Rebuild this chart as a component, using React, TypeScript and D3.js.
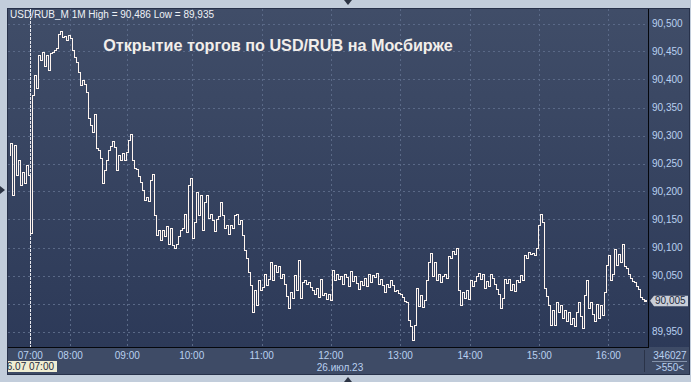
import React from 'react';
import * as d3 from 'd3';

// ---------- data ----------
const symbolLabel = 'USD/RUB_M 1M';
const highValue = 90.486;
const lowValue = 89.935;
const lastPrice = 90.005;
const titleText = 'Открытие торгов по USD/RUB на Мосбирже';
const dateLabel = '26.июл.23';
const cursorLabel = '26.07 07:00';
const volumeLabel = '346027';
const barsLabel = '>550<';

const priceTicks = [89.95, 90.0, 90.05, 90.1, 90.15, 90.2, 90.25, 90.3, 90.35, 90.4, 90.45, 90.5];
const timeLabels = ['07:00', '08:00', '09:00', '10:00', '11:00', '12:00', '13:00', '14:00', '15:00', '16:00'];
// position of each hour on the bar axis (bars are not evenly spread in time)
const timeSlots = [10.65, 30.65, 59.15, 91.35, 126.35, 160.85, 195.65, 230.5, 265.15, 299.65];

const pricesEarly = [90.265, 90.287, 90.194, 90.283, 90.23, 90.256, 90.212, 90.235, 90.215, 90.247, 90.23];
const prices07 = [90.126, 90.372, 90.408, 90.385, 90.444, 90.435, 90.449, 90.424, 90.444, 90.417, 90.447, 90.449, 90.453, 90.456, 90.481, 90.486, 90.476, 90.478, 90.471, 90.479];
const prices08 = [90.474, 90.453, 90.44, 90.431, 90.413, 90.39, 90.399, 90.392, 90.378, 90.331, 90.319, 90.306, 90.338, 90.278, 90.274, 90.26, 90.215, 90.238, 90.256, 90.274, 90.281, 90.29, 90.279, 90.238, 90.265, 90.256, 90.269, 90.256, 90.271];
const prices09 = [90.292, 90.303, 90.256, 90.242, 90.24, 90.228, 90.217, 90.203, 90.185, 90.19, 90.183, 90.221, 90.231, 90.158, 90.122, 90.131, 90.113, 90.131, 90.12, 90.138, 90.106, 90.135, 90.104, 90.099, 90.106, 90.12, 90.131, 90.135, 90.16, 90.128, 90.212, 90.224];
const prices10 = [90.117, 90.146, 90.199, 90.158, 90.194, 90.131, 90.181, 90.194, 90.153, 90.16, 90.149, 90.129, 90.151, 90.156, 90.181, 90.158, 90.135, 90.14, 90.124, 90.14, 90.135, 90.158, 90.16, 90.142, 90.149, 90.122, 90.096, 90.081, 90.056, 90.033, 89.985, 90.024, 89.997, 90.042, 90.024];
const prices11 = [90.029, 90.053, 90.033, 90.044, 90.074, 90.042, 90.069, 90.056, 90.067, 90.046, 90.053, 90.035, 90.013, 89.992, 90.021, 90.01, 90.051, 90.024, 90.078, 90.01, 90.038, 90.042, 90.035, 90.038, 90.029, 90.024, 90.017, 90.028, 90.012, 90.044, 90.015, 90.019, 90.008, 90.017, 90.006];
const prices12 = [90.06, 90.042, 90.053, 90.044, 90.049, 90.035, 90.053, 90.047, 90.031, 90.058, 90.04, 90.049, 90.037, 90.026, 90.04, 90.033, 90.046, 90.031, 90.053, 90.038, 90.051, 90.047, 90.055, 90.035, 90.044, 90.033, 90.021, 90.035, 90.029, 90.042, 90.033, 90.022, 90.024, 90.019, 90.017];
const prices13 = [90.012, 90.004, 90.003, 89.97, 89.96, 89.935, 89.962, 90.028, 89.996, 90.015, 89.994, 90.006, 90.042, 90.074, 90.09, 90.049, 90.074, 90.042, 90.053, 90.038, 90.049, 90.053, 90.046, 90.085, 90.081, 90.094, 90.088, 90.099, 90.024, 89.997, 90.021, 90.01, 90.024, 90.008];
const prices14 = [90.042, 90.031, 90.04, 90.049, 90.055, 90.044, 90.053, 90.028, 90.04, 90.031, 90.053, 90.046, 90.035, 90.026, 90.017, 89.992, 90.01, 90.044, 90.037, 90.044, 90.024, 90.035, 90.022, 90.042, 90.038, 90.051, 90.042, 90.087, 90.081, 90.092, 90.088, 90.09, 90.087, 90.099, 90.14];
const prices15 = [90.16, 90.146, 90.028, 90.013, 89.997, 89.962, 89.988, 89.962, 90.003, 89.985, 89.997, 89.974, 89.988, 89.969, 89.985, 89.963, 89.974, 89.96, 89.985, 90.003, 89.978, 89.956, 90.015, 90.042, 89.992, 90.003, 89.981, 89.969, 89.999, 89.974, 89.997, 89.979, 90.021, 90.069];
const prices16 = [90.087, 90.042, 90.053, 90.097, 90.069, 90.088, 90.074, 90.106, 90.067, 90.063, 90.053, 90.046, 90.04, 90.038, 90.031, 90.026, 90.012, 90.008, 90.005];

const prices = [
  ...pricesEarly, ...prices07, ...prices08, ...prices09, ...prices10, ...prices11,
  ...prices12, ...prices13, ...prices14, ...prices15, ...prices16,
];

// ---------- layout ----------
const W = 691;
const H = 382;
const panel = { x: 8, y: 9, r: 689, b: 374 };
const plot = { l: 8, t: 9, r: 648, b: 347 };
const FONT = 'Liberation Sans, Arial, sans-serif';
const labelColor = '#b9d0f0';
const gridColor = '#5a6987';

const fmt = (v: number) => d3.format('.3f')(v).replace('.', ',');

export default function App() {
  const x = d3.scaleLinear().domain([0, prices.length - 1]).range([9, 645]);
  const y = d3.scaleLinear().domain([89.95, 90.5]).range([331.5, 23.5]);

  const line = d3
    .line<number>()
    .x((_, i) => Math.round(x(i)) + 0.5)
    .y((d) => Math.round(y(d)) + 0.5)
    .curve(d3.curveStep);

  const lastY = y(lastPrice);
  const lastX = x(prices.length - 1);

  return (
    <svg
      width={W}
      height={H}
      style={{ position: 'absolute', left: 0, top: 0, display: 'block' }}
      fontFamily={FONT}
    >
      <defs>
        <linearGradient id="bg" x1="0" y1="0" x2="0" y2="1">
          <stop offset="0" stopColor="#404d68" />
          <stop offset="1" stopColor="#2b3857" />
        </linearGradient>
        <clipPath id="plotClip">
          <rect x={plot.l} y={plot.t} width={plot.r - plot.l} height={plot.b - plot.t} />
        </clipPath>
        <clipPath id="panelClip">
          <rect x={panel.x} y={panel.y} width={panel.r - panel.x} height={panel.b - panel.y} />
        </clipPath>
      </defs>

      {/* outer frame */}
      <rect x={0} y={0} width={W} height={H} fill="#c2cddb" />
      <rect x={panel.x} y={panel.y} width={panel.r - panel.x} height={panel.b - panel.y} fill="url(#bg)" />
      <rect x={plot.l} y={plot.b} width={plot.r - plot.l} height={panel.b - plot.b} fill="#3e4b66" />
      <rect x={plot.r} y={plot.b} width={panel.r - plot.r} height={panel.b - plot.b} fill="#3e4b66" />
      <rect x={panel.x - 0.5} y={panel.y - 0.5} width={panel.r - panel.x + 1} height={panel.b - panel.y + 1} fill="none" stroke="#27314a" />

      {/* grid */}
      <g clipPath="url(#plotClip)">
        {priceTicks.map((p) => (
          <line key={p} x1={plot.l} x2={plot.r} y1={Math.round(y(p)) + 0.5} y2={Math.round(y(p)) + 0.5} stroke={gridColor} strokeDasharray="2,3" />
        ))}
        {timeSlots.slice(1).map((s) => (
          <line key={s} x1={Math.round(x(s)) + 0.5} x2={Math.round(x(s)) + 0.5} y1={plot.t} y2={plot.b} stroke={gridColor} strokeDasharray="2,3" />
        ))}
        <line x1={Math.round(x(timeSlots[0])) + 0.5} x2={Math.round(x(timeSlots[0])) + 0.5} y1={plot.t} y2={plot.b} stroke="#e8e8ee" strokeDasharray="3,1" />
      </g>

      {/* header and title */}
      <text x={10} y={18} fill="#eef1f6" fontSize={10}>
        {`${symbolLabel} High = ${fmt(highValue)} Low = ${fmt(lowValue)}`}
      </text>
      <text x={278} y={50.5} fill="#f2eeea" fontSize={16.2} fontWeight="bold" textAnchor="middle">
        {titleText}
      </text>

      {/* price line */}
      <g clipPath="url(#plotClip)">
        <path d={line(prices) || ''} fill="none" stroke="#fff5ef" strokeWidth={1} shapeRendering="crispEdges" />
        <rect x={Math.round(lastX)} y={Math.round(lastY) - 1} width={2} height={2} fill="#fff5ef" />
      </g>

      {/* axis lines */}
      <line x1={plot.r + 0.5} x2={plot.r + 0.5} y1={panel.y} y2={plot.b + 1} stroke="#05070c" />
      <line x1={plot.l} x2={plot.r + 1} y1={plot.b + 0.5} y2={plot.b + 0.5} stroke="#05070c" />
      <line x1={644.5} x2={644.5} y1={350} y2={372} stroke="#2a3348" />
      <line x1={652} x2={687} y1={361.5} y2={361.5} stroke="#8392ab" />

      {/* y labels */}
      {priceTicks
        .filter((p) => Math.abs(y(p) - lastY) > 7)
        .map((p) => (
          <text key={p} x={652} y={y(p)} dy="0.35em" fill={labelColor} fontSize={10}>
            {fmt(p)}
          </text>
        ))}

      {/* last price tag */}
      <path
        d={`M${plot.r + 2},${lastY} L${plot.r + 6},${lastY - 5} L${panel.r - 1},${lastY - 5} L${panel.r - 1},${lastY + 5.5} L${plot.r + 6},${lastY + 5.5} Z`}
        fill="#c9ced8"
      />
      <text x={655} y={lastY} dy="0.35em" fill="#1e2a3c" fontSize={10}>
        {fmt(lastPrice)}
      </text>

      {/* x labels */}
      {timeLabels.map((t, i) => (
        <text key={t} x={x(timeSlots[i])} y={355} dy="0.35em" fill={labelColor} fontSize={10} textAnchor="middle">
          {t}
        </text>
      ))}
      <text x={340} y={367} dy="0.35em" fill={labelColor} fontSize={10} textAnchor="middle">
        {dateLabel}
      </text>
      <g clipPath="url(#panelClip)">
        <rect x={panel.x} y={361} width={49} height={11} fill="#efedd2" />
        <text x={54} y={366.5} dy="0.35em" fill="#1e2a3c" fontSize={10} textAnchor="end">
          {cursorLabel}
        </text>
      </g>
      <text x={670} y={355} dy="0.35em" fill={labelColor} fontSize={10} textAnchor="middle">
        {volumeLabel}
      </text>
      <text x={670} y={367.5} dy="0.35em" fill={labelColor} fontSize={10} textAnchor="middle">
        {barsLabel}
      </text>

      {/* frame markers */}
      <path d="M344,0 L352,0 L348,5 Z" fill="#2c3444" />
      <path d="M344,382 L352,382 L348,377 Z" fill="#2c3444" />
      <path d="M0,186 L0,194 L5,190 Z" fill="#2c3444" />
    </svg>
  );
}
